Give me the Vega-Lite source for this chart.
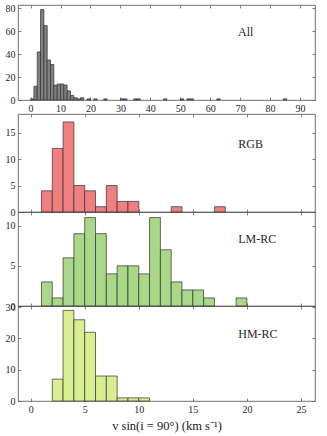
{
  "$schema": "https://vega.github.io/schema/vega-lite/v6.json",
  "background": "white",
  "padding": {"left": 4, "top": 3, "right": 5, "bottom": 4},
  "config": {
    "font": "Liberation Serif",
    "view": {"stroke": "#4d4d4d", "strokeWidth": 0.8},
    "axis": {
      "domain": false, "grid": false,
      "labelFont": "Liberation Serif", "labelFontSize": 10, "labelColor": "#262626",
      "tickColor": "#4d4d4d", "tickSize": -3, "tickWidth": 0.7, "labelPadding": 6,
      "titleFont": "Liberation Serif", "titleFontWeight": "normal", "titleColor": "#1a1a1a"
    },
    "text": {"font": "Liberation Serif", "fontSize": 12, "fontWeight": "normal", "color": "#262626", "align": "left", "baseline": "middle"}
  },
  "datasets": {
    "all": [
      {"lo": 0.00, "hi": 1.11, "n": 1}, {"lo": 1.11, "hi": 2.22, "n": 12}, {"lo": 2.22, "hi": 3.33, "n": 42},
      {"lo": 3.33, "hi": 4.44, "n": 79}, {"lo": 4.44, "hi": 5.56, "n": 65}, {"lo": 5.56, "hi": 6.67, "n": 35},
      {"lo": 6.67, "hi": 7.78, "n": 31}, {"lo": 7.78, "hi": 8.89, "n": 13}, {"lo": 8.89, "hi": 10.00, "n": 14},
      {"lo": 10.00, "hi": 11.11, "n": 14}, {"lo": 11.11, "hi": 12.22, "n": 13}, {"lo": 12.22, "hi": 13.33, "n": 8},
      {"lo": 13.33, "hi": 14.44, "n": 4}, {"lo": 14.44, "hi": 15.56, "n": 2}, {"lo": 15.56, "hi": 16.67, "n": 1},
      {"lo": 16.67, "hi": 17.78, "n": 2}, {"lo": 18.89, "hi": 20.00, "n": 1}, {"lo": 21.11, "hi": 22.22, "n": 1},
      {"lo": 24.44, "hi": 25.56, "n": 1}, {"lo": 30.00, "hi": 31.11, "n": 1}, {"lo": 31.11, "hi": 32.22, "n": 1},
      {"lo": 34.44, "hi": 35.56, "n": 1}, {"lo": 35.56, "hi": 36.67, "n": 1}, {"lo": 44.44, "hi": 45.56, "n": 1},
      {"lo": 50.00, "hi": 51.11, "n": 1}, {"lo": 52.22, "hi": 53.33, "n": 1}, {"lo": 53.33, "hi": 54.44, "n": 1},
      {"lo": 62.22, "hi": 63.33, "n": 1}, {"lo": 84.44, "hi": 85.56, "n": 1}
    ],
    "rgb": [
      {"lo": 1, "hi": 2, "n": 4}, {"lo": 2, "hi": 3, "n": 12}, {"lo": 3, "hi": 4, "n": 17}, {"lo": 4, "hi": 5, "n": 5},
      {"lo": 5, "hi": 6, "n": 4}, {"lo": 6, "hi": 7, "n": 1}, {"lo": 7, "hi": 8, "n": 5}, {"lo": 8, "hi": 9, "n": 2},
      {"lo": 9, "hi": 10, "n": 2}, {"lo": 13, "hi": 14, "n": 1}, {"lo": 17, "hi": 18, "n": 1}
    ],
    "lmrc": [
      {"lo": 1, "hi": 2, "n": 3}, {"lo": 2, "hi": 3, "n": 1}, {"lo": 3, "hi": 4, "n": 6}, {"lo": 4, "hi": 5, "n": 9},
      {"lo": 5, "hi": 6, "n": 11}, {"lo": 6, "hi": 7, "n": 9}, {"lo": 7, "hi": 8, "n": 4}, {"lo": 8, "hi": 9, "n": 5},
      {"lo": 9, "hi": 10, "n": 5}, {"lo": 10, "hi": 11, "n": 4}, {"lo": 11, "hi": 12, "n": 11}, {"lo": 12, "hi": 13, "n": 7},
      {"lo": 13, "hi": 14, "n": 3}, {"lo": 14, "hi": 15, "n": 2}, {"lo": 15, "hi": 16, "n": 2}, {"lo": 16, "hi": 17, "n": 1},
      {"lo": 19, "hi": 20, "n": 1}
    ],
    "hmrc": [
      {"lo": 2, "hi": 3, "n": 7}, {"lo": 3, "hi": 4, "n": 29}, {"lo": 4, "hi": 5, "n": 26}, {"lo": 5, "hi": 6, "n": 22},
      {"lo": 6, "hi": 7, "n": 8}, {"lo": 7, "hi": 8, "n": 8}, {"lo": 8, "hi": 9, "n": 1}, {"lo": 9, "hi": 10, "n": 1},
      {"lo": 10, "hi": 11, "n": 1}
    ]
  },
  "spacing": -1,
  "vconcat": [
    {
      "width": 297, "height": 95,
      "layer": [
        {
          "data": {"name": "all"},
          "mark": {"type": "bar", "fill": "#808080", "stroke": "#303030", "strokeWidth": 0.7},
          "encoding": {
            "x": {"field": "lo", "type": "quantitative", "scale": {"domain": [-4.2, 95], "nice": false, "zero": false},
                  "axis": {"orient": "bottom", "values": [0,10,20,30,40,50,60,70,80,90], "title": null}},
            "x2": {"field": "hi"},
            "y": {"field": "n", "type": "quantitative", "scale": {"domain": [0, 83], "nice": false},
                  "axis": {"orient": "left", "values": [0,20,40,60,80], "title": null}},
            "y2": {"datum": 0}
          }
        },
        {
          "data": {"values": [{"label": "All"}]},
          "mark": {"type": "text"},
          "encoding": {
            "x": {"datum": 69.3, "type": "quantitative", "axis": {"orient": "top", "labels": false, "values": [0,10,20,30,40,50,60,70,80,90], "title": null}},
            "y": {"datum": 59, "type": "quantitative", "axis": {"orient": "right", "labels": false, "values": [0,20,40,60,80], "title": null}},
            "text": {"field": "label"}
          }
        }
      ]
    },
    {
      "bounds": "flush",
      "spacing": 0,
      "vconcat": [
        {
          "width": 297, "height": 98,
          "layer": [
            {
              "data": {"name": "rgb"},
              "mark": {"type": "bar", "fill": "#f08080", "stroke": "#303030", "strokeWidth": 0.7},
              "encoding": {
                "x": {"field": "lo", "type": "quantitative", "scale": {"domain": [-1.17, 26.3], "nice": false, "zero": false},
                      "axis": {"orient": "bottom", "labels": false, "values": [0,5,10,15,20,25], "title": null}},
                "x2": {"field": "hi"},
                "y": {"field": "n", "type": "quantitative", "scale": {"domain": [0, 18.5], "nice": false},
                      "axis": {"orient": "left", "values": [0,5,10,15], "title": null}},
                "y2": {"datum": 0}
              }
            },
            {
              "data": {"values": [{"label": "RGB"}]},
              "mark": {"type": "text"},
              "encoding": {
                "x": {"datum": 19.2, "type": "quantitative", "axis": {"orient": "top", "labels": false, "values": [0,5,10,15,20,25], "title": null}},
                "y": {"datum": 12.9, "type": "quantitative", "axis": {"orient": "right", "labels": false, "values": [0,5,10,15], "title": null}},
                "text": {"field": "label"}
              }
            }
          ]
        },
        {
          "width": 297, "height": 94,
          "layer": [
            {
              "data": {"name": "lmrc"},
              "mark": {"type": "bar", "fill": "#a8d888", "stroke": "#303030", "strokeWidth": 0.7},
              "encoding": {
                "x": {"field": "lo", "type": "quantitative", "scale": {"domain": [-1.17, 26.3], "nice": false, "zero": false},
                      "axis": {"orient": "bottom", "labels": false, "values": [0,5,10,15,20,25], "title": null}},
                "x2": {"field": "hi"},
                "y": {"field": "n", "type": "quantitative", "scale": {"domain": [0, 11.7], "nice": false},
                      "axis": {"orient": "left", "values": [0,5,10], "title": null}},
                "y2": {"datum": 0}
              }
            },
            {
              "data": {"values": [{"label": "LM-RC"}]},
              "mark": {"type": "text"},
              "encoding": {
                "x": {"datum": 19.2, "type": "quantitative", "axis": {"orient": "top", "labels": false, "values": [0,5,10,15,20,25], "title": null}},
                "y": {"datum": 8.4, "type": "quantitative", "axis": {"orient": "right", "labels": false, "values": [0,5,10], "title": null}},
                "text": {"field": "label"}
              }
            }
          ]
        },
        {
          "width": 297, "height": 95,
          "layer": [
            {
              "data": {"name": "hmrc"},
              "mark": {"type": "bar", "fill": "#d9ee90", "stroke": "#303030", "strokeWidth": 0.7},
              "encoding": {
                "x": {"field": "lo", "type": "quantitative", "scale": {"domain": [-1.17, 26.3], "nice": false, "zero": false},
                      "axis": {"orient": "bottom", "values": [0,5,10,15,20,25], "title": "v sin(i = 90°)  (km s⁻¹)", "titleFontSize": 12.5, "titlePadding": 5}},
                "x2": {"field": "hi"},
                "y": {"field": "n", "type": "quantitative", "scale": {"domain": [0, 30.4], "nice": false},
                      "axis": {"orient": "left", "values": [0,10,20,30], "title": null}},
                "y2": {"datum": 0}
              }
            },
            {
              "data": {"values": [{"label": "HM-RC"}]},
              "mark": {"type": "text"},
              "encoding": {
                "x": {"datum": 19.2, "type": "quantitative", "axis": {"orient": "top", "labels": false, "values": [0,5,10,15,20,25], "title": null}},
                "y": {"datum": 21.6, "type": "quantitative", "axis": {"orient": "right", "labels": false, "values": [0,10,20,30], "title": null}},
                "text": {"field": "label"}
              }
            }
          ]
        }
      ]
    }
  ]
}
